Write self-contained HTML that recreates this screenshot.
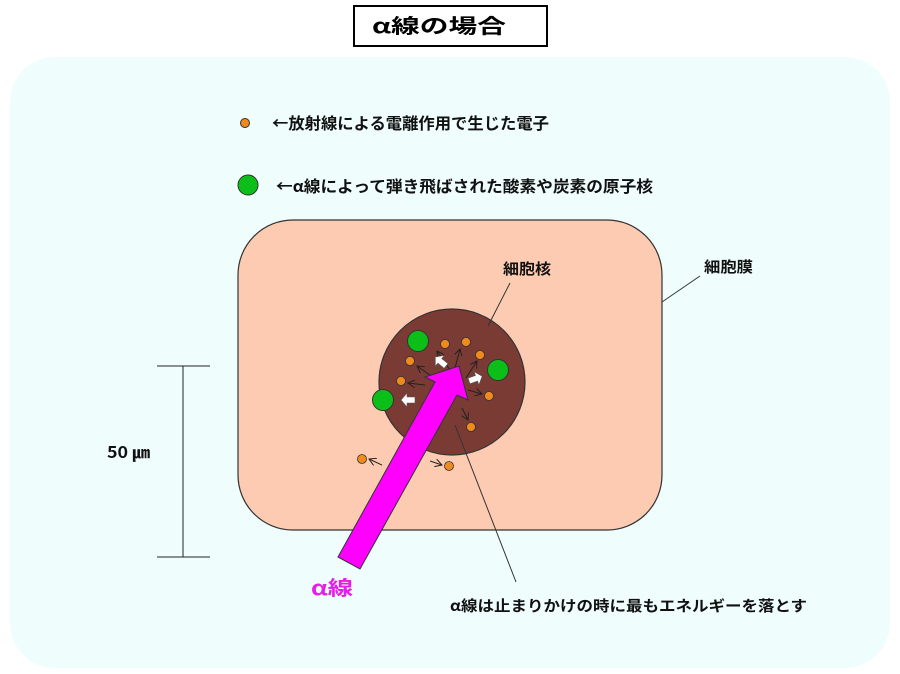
<!DOCTYPE html>
<html><head><meta charset="utf-8"><style>
html,body{margin:0;padding:0;background:#fff;}
svg{display:block;}
text{font-family:"Noto Sans CJK JP","Liberation Sans",sans-serif;font-weight:bold;}
</style></head><body>
<svg width="900" height="674" viewBox="0 0 900 674" xmlns="http://www.w3.org/2000/svg">
<defs>
<marker id="ah" markerWidth="8" markerHeight="8" refX="7" refY="4" orient="auto" markerUnits="userSpaceOnUse">
<path d="M0,0 L7,4 L0,8" fill="none" stroke="#222" stroke-width="1"/>
</marker>
</defs>
<rect x="354" y="6" width="193" height="40" fill="#fff" stroke="#000" stroke-width="2"/>
<text x="372" y="33" font-size="20" textLength="134" lengthAdjust="spacingAndGlyphs" fill="#000">α線の場合</text>
<rect x="10" y="57" width="880" height="611" rx="45" fill="#effdfd"/>
<circle cx="245" cy="123" r="4.5" fill="#f08a1c" stroke="#333" stroke-width="1"/>
<text x="272" y="129" font-size="16" textLength="277" lengthAdjust="spacingAndGlyphs" fill="#111">←放射線による電離作用で生じた電子</text>
<circle cx="248" cy="185" r="10" fill="#0bbf18" stroke="#333" stroke-width="1"/>
<text x="276" y="192" font-size="16" textLength="377" lengthAdjust="spacingAndGlyphs" fill="#111">←α線によって弾き飛ばされた酸素や炭素の原子核</text>
<rect x="238" y="220" width="424" height="310" rx="55" fill="#fccbb2" stroke="#333" stroke-width="1.2"/>
<circle cx="452" cy="382" r="73" fill="#7b3b35" stroke="#333" stroke-width="1.2"/>
<text x="503" y="274" font-size="15" textLength="48" lengthAdjust="spacingAndGlyphs" fill="#111">細胞核</text>
<line x1="510" y1="283" x2="488" y2="326" stroke="#333" stroke-width="1"/>
<text x="704" y="272" font-size="15" textLength="49" lengthAdjust="spacingAndGlyphs" fill="#111">細胞膜</text>
<line x1="700" y1="276" x2="662" y2="302" stroke="#333" stroke-width="1"/>
<line x1="183" y1="366" x2="183" y2="557" stroke="#222" stroke-width="1"/>
<line x1="157" y1="366" x2="210" y2="366" stroke="#222" stroke-width="1"/>
<line x1="157" y1="557" x2="210" y2="557" stroke="#222" stroke-width="1"/>
<text x="107" y="458" font-size="16" textLength="43" lengthAdjust="spacingAndGlyphs" fill="#111" font-weight="normal">50 ㎛</text>
<line x1="455" y1="425" x2="516" y2="582" stroke="#333" stroke-width="1"/>
<text x="450" y="611" font-size="15" textLength="357" lengthAdjust="spacingAndGlyphs" fill="#111">α線は止まりかけの時に最もエネルギーを落とす</text>
<g stroke="#222" stroke-width="1" marker-end="url(#ah)">
<line x1="450" y1="370" x2="437" y2="351"/>
<line x1="455" y1="368" x2="460" y2="349"/>
<line x1="466" y1="378" x2="477" y2="361"/>
<line x1="430" y1="375" x2="417" y2="366"/>
<line x1="425" y1="385" x2="408" y2="383"/>
<line x1="468" y1="390" x2="482" y2="394"/>
<line x1="462" y1="408" x2="468" y2="420"/>
<line x1="382" y1="465" x2="369" y2="459"/>
<line x1="430" y1="461" x2="442" y2="465"/>
</g>
<g fill="#f08a1c" stroke="#333" stroke-width="0.8">
<circle cx="445" cy="344" r="4.5"/><circle cx="466" cy="342" r="4.5"/><circle cx="480" cy="355" r="4.5"/>
<circle cx="410" cy="361" r="4.5"/><circle cx="401" cy="381" r="4.5"/><circle cx="489" cy="396" r="4.5"/>
<circle cx="471" cy="427" r="4.5"/><circle cx="362" cy="459" r="4.5"/><circle cx="449" cy="466" r="4.5"/>
</g>
<g fill="#0bbf18" stroke="#333" stroke-width="1">
<circle cx="418" cy="341" r="10.5"/><circle cx="498" cy="370" r="10.5"/><circle cx="383" cy="400" r="10.5"/>
</g>
<g fill="#fff" stroke="#555" stroke-width="0.6">
<path d="M0,-3 L8,-3 L8,-7 L14,0 L8,7 L8,3 L0,3 Z" transform="translate(446,366) rotate(-140)"/>
<path d="M0,-3 L8,-3 L8,-7 L14,0 L8,7 L8,3 L0,3 Z" transform="translate(469,381) rotate(-20)"/>
<path d="M0,-3 L8,-3 L8,-7 L14,0 L8,7 L8,3 L0,3 Z" transform="translate(415,400) rotate(180)"/>
</g>
<polygon points="338,557 435,382 425,377 459,366 468,400 457,395 360,569" fill="#ff00ff" stroke="#333" stroke-width="1"/>
<text x="311" y="595" font-size="20" textLength="42" lengthAdjust="spacingAndGlyphs" fill="#e61ee6">α線</text>
</svg>
</body></html>
